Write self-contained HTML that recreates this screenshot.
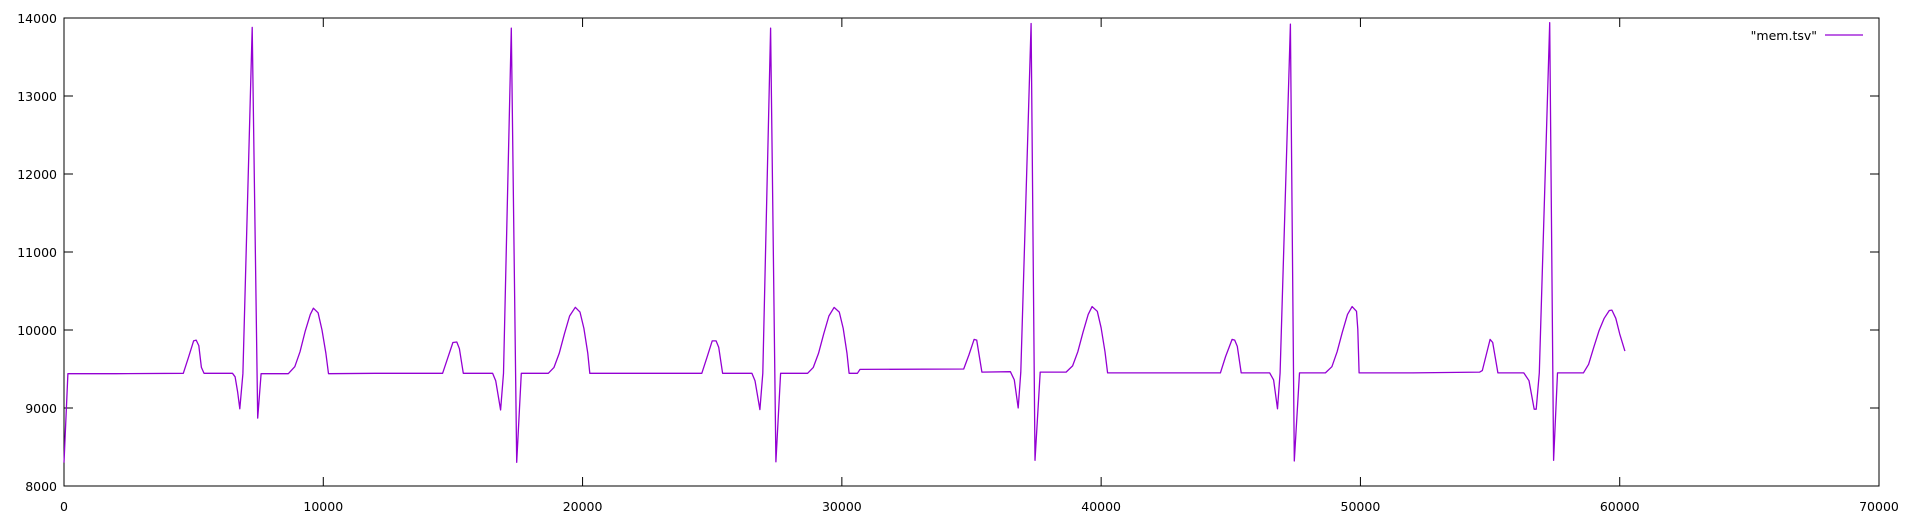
<!DOCTYPE html>
<html><head><meta charset="utf-8"><style>
body{margin:0;background:#fff;}
svg{display:block;font-family:"DejaVu Sans","Liberation Sans",sans-serif;}
</style></head><body>
<svg id="chart" width="1914" height="525" viewBox="0 0 1914 525" xmlns="http://www.w3.org/2000/svg">
<rect width="1914" height="525" fill="#fff"/>
<g id="axes"></g>
<g id="series"></g>
<g>
<text x="1817" y="40" font-size="12.5" text-anchor="end" fill="#000">"mem.tsv"</text>
<line x1="1825" y1="35" x2="1863" y2="35" stroke="#9400d3" stroke-width="1.3"/>
</g>
</svg>
<script>
const xTicks=[0,10000,20000,30000,40000,50000,60000,70000];
const yTicks=[8000,9000,10000,11000,12000,13000,14000];
const memX=[0,150,2000,4600,4800,5000,5100,5200,5300,5400,6500,6600,6700,6780,6900,7260,7470,7600,8650,8900,9100,9300,9500,9620,9800,9950,10100,10200,
12000,14600,14800,15000,15150,15250,15400,16530,16650,16840,16950,17250,17458,17637,18678,18900,19100,19300,19500,19720,19900,20050,20200,20280,
22000,24600,24800,25000,25150,25250,25400,26530,26650,26840,26950,27250,27458,27637,28678,28900,29100,29300,29500,29700,29900,30050,30200,30280,30600,30700,
34700,34900,35100,35200,35400,36500,36650,36800,36900,37300,37450,37650,38650,38900,39100,39300,39500,39650,39850,40000,40150,40250,
42000,44600,44800,45050,45150,45250,45400,46500,46650,46800,46900,47300,47450,47650,48650,48900,49100,49300,49500,49680,49850,49900,49950,
52000,54600,54700,55000,55100,55300,56300,56500,56700,56780,56900,57300,57450,57600,58600,58800,59000,59200,59400,59600,59700,59850,60000,60200];
const memY=[8300,9440,9440,9445,9650,9860,9870,9800,9520,9445,9445,9400,9200,8990,9440,13880,8870,9440,9440,9530,9720,9980,10200,10280,10220,10000,9700,9440,
9445,9445,9640,9840,9846,9760,9445,9445,9350,8974,9445,13870,8304,9445,9445,9520,9700,9950,10180,10291,10230,10020,9700,9445,
9445,9445,9650,9860,9860,9780,9445,9445,9350,8980,9445,13870,8310,9445,9445,9520,9700,9950,10180,10290,10230,10020,9700,9445,9445,9495,
9500,9680,9880,9870,9460,9465,9360,9000,9460,13930,8330,9460,9460,9540,9720,9970,10200,10300,10240,10030,9720,9450,
9450,9450,9660,9880,9870,9790,9450,9450,9360,8990,9450,13920,8320,9450,9450,9530,9720,9970,10200,10300,10240,10010,9450,
9450,9460,9480,9880,9840,9450,9450,9350,8985,8985,9450,13940,8330,9450,9450,9560,9780,9990,10150,10250,10255,10150,9950,9730];
const L=64,R=1879,T=18,B=486;
const sx=v=>L+(v-0)/70000*(R-L);
const sy=v=>B-(v-8000)/6000*(B-T);
const NS="http://www.w3.org/2000/svg";
const axes=document.getElementById('axes');
function mk(tag,attrs,parent){const e=document.createElementNS(NS,tag);for(const k in attrs)e.setAttribute(k,attrs[k]);parent.appendChild(e);return e;}
const frame=mk('rect',{x:L,y:T,width:R-L,height:B-T,fill:'none',stroke:'#000','stroke-width':1},axes);


xTicks.forEach(v=>{
  const x=sx(v);
  const t1=mk('line',{x1:x,y1:B,x2:x,y2:B-9,stroke:'#000'},axes);
  
  
  const t2=mk('line',{x1:x,y1:T,x2:x,y2:T+9,stroke:'#000'},axes);
  
  
  const tx=mk('text',{x:x,y:511,'font-size':12.5,'text-anchor':'middle',fill:'#000'},axes);
  tx.textContent=v;
  
  
});
yTicks.forEach(v=>{
  const y=sy(v);
  const t1=mk('line',{x1:L,y1:y,x2:L+9,y2:y,stroke:'#000'},axes);
  
  
  const t2=mk('line',{x1:R,y1:y,x2:R-9,y2:y,stroke:'#000'},axes);
  
  
  const tx=mk('text',{x:57,y:y+5,'font-size':12.5,'text-anchor':'end',fill:'#000'},axes);
  tx.textContent=v;
  
  
});
const pts=memX.map((x,i)=>sx(x).toFixed(1)+','+sy(memY[i]).toFixed(1)).join(' ');
const line=mk('polyline',{points:pts,fill:'none',stroke:'#9400d3','stroke-width':1.3,'stroke-linejoin':'round'},document.getElementById('series'));


</script>
</body></html>
